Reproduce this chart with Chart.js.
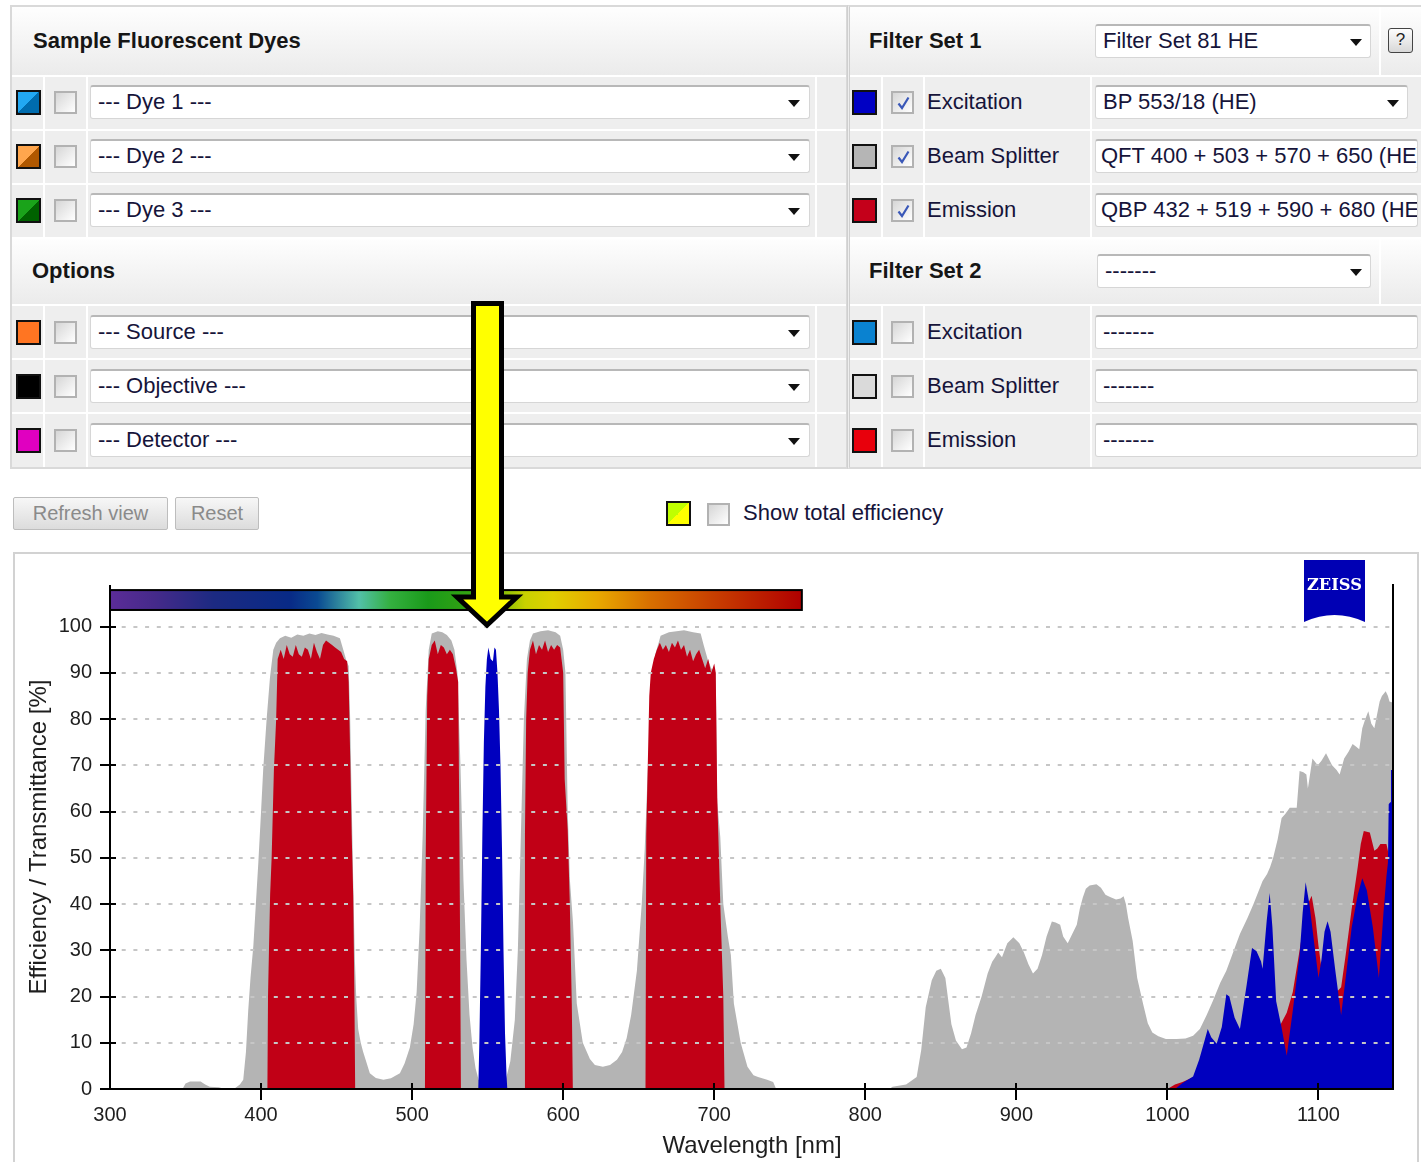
<!DOCTYPE html>
<html>
<head>
<meta charset="utf-8">
<script src="https://cdn.jsdelivr.net/npm/chart.js@4.4.1/dist/chart.umd.min.js"></script>
<style>
body{margin:0;width:1421px;height:1162px;overflow:hidden;background:#fff;font-family:"Liberation Sans",Arial,sans-serif;position:relative}
.a{position:absolute}
.panel{background:#eeeeee;border:2px solid #d9d9d9;box-sizing:border-box}
.hdr{background:linear-gradient(#fefefe,#ebebeb)}
.hl{height:2px;background:#fff}
.vl{width:2px;background:#fff}
.h{font-weight:bold;font-size:22px;color:#161616;line-height:24px;white-space:nowrap}
.sw{width:25px;height:25px;border:2px solid #111;box-sizing:border-box}
.cb{width:23px;height:23px;border:2px solid #b2b2b2;box-sizing:border-box;background:linear-gradient(135deg,#d6d6d6,#ffffff)}
.cb svg{position:absolute;left:1px;top:1px}
.sel{background:#fff;border:1px solid #d6d6d6;border-top:2px solid #b8b8b8;border-radius:3px;box-sizing:border-box;height:34px;font-size:22px;line-height:30px;padding-left:7px;color:#16143a;white-space:nowrap;overflow:hidden}
.arr{width:0;height:0;border-left:6px solid transparent;border-right:6px solid transparent;border-top:7px solid #111}
.lbl{font-size:22px;color:#16143a;line-height:26px;white-space:nowrap}
.btn{height:33px;border:1px solid #bdbdbd;box-sizing:border-box;background:linear-gradient(#f7f7f7,#dcdcdc);color:#8a8a8a;font-size:20px;line-height:31px;text-align:center;border-radius:2px}
</style>
</head>
<body>
<!-- LEFT PANEL -->
<div class="a panel" style="left:10px;top:5px;width:838px;height:464px"></div>
<div class="a hdr" style="left:12px;top:7px;width:834px;height:68px"></div>
<div class="a h" style="left:33px;top:29px">Sample Fluorescent Dyes</div>
<div class="a hl" style="left:12px;top:75px;width:834px"></div>
<div class="a hl" style="left:12px;top:129px;width:834px"></div>
<div class="a hl" style="left:12px;top:183px;width:834px"></div>
<div class="a hl" style="left:12px;top:237px;width:834px"></div>
<div class="a hdr" style="left:12px;top:239px;width:834px;height:65px"></div>
<div class="a h" style="left:32px;top:259px">Options</div>
<div class="a hl" style="left:12px;top:304px;width:834px"></div>
<div class="a hl" style="left:12px;top:358px;width:834px"></div>
<div class="a hl" style="left:12px;top:412px;width:834px"></div>
<div class="a vl" style="left:43px;top:77px;height:160px"></div>
<div class="a vl" style="left:86px;top:77px;height:160px"></div>
<div class="a vl" style="left:815px;top:77px;height:160px"></div>
<div class="a vl" style="left:43px;top:306px;height:161px"></div>
<div class="a vl" style="left:86px;top:306px;height:161px"></div>
<div class="a vl" style="left:815px;top:306px;height:161px"></div>

<div class="a sw" style="left:16px;top:90px;background:linear-gradient(135deg,#22a8f2 50%,#006cae 50%)"></div>
<div class="a sw" style="left:16px;top:144px;background:linear-gradient(135deg,#ffa64d 50%,#b05800 50%)"></div>
<div class="a sw" style="left:16px;top:198px;background:linear-gradient(135deg,#1aa31a 50%,#006200 50%)"></div>
<div class="a sw" style="left:16px;top:320px;background:#ff7522"></div>
<div class="a sw" style="left:16px;top:374px;background:#000"></div>
<div class="a sw" style="left:16px;top:428px;background:#e000c0"></div>

<div class="a cb" style="left:54px;top:91px"></div>
<div class="a cb" style="left:54px;top:145px"></div>
<div class="a cb" style="left:54px;top:199px"></div>
<div class="a cb" style="left:54px;top:321px"></div>
<div class="a cb" style="left:54px;top:375px"></div>
<div class="a cb" style="left:54px;top:429px"></div>

<div class="a sel" style="left:90px;top:85px;width:720px">--- Dye 1 ---</div>
<div class="a sel" style="left:90px;top:139px;width:720px">--- Dye 2 ---</div>
<div class="a sel" style="left:90px;top:193px;width:720px">--- Dye 3 ---</div>
<div class="a sel" style="left:90px;top:315px;width:720px">--- Source ---</div>
<div class="a sel" style="left:90px;top:369px;width:720px">--- Objective ---</div>
<div class="a sel" style="left:90px;top:423px;width:720px">--- Detector ---</div>
<div class="a arr" style="left:788px;top:100px"></div>
<div class="a arr" style="left:788px;top:154px"></div>
<div class="a arr" style="left:788px;top:208px"></div>
<div class="a arr" style="left:788px;top:330px"></div>
<div class="a arr" style="left:788px;top:384px"></div>
<div class="a arr" style="left:788px;top:438px"></div>

<!-- RIGHT PANEL -->
<div class="a panel" style="left:847px;top:5px;width:580px;height:464px;border-left:3px double #cfcfcf"></div>
<div class="a hdr" style="left:850px;top:7px;width:573px;height:68px"></div>
<div class="a h" style="left:869px;top:29px">Filter Set 1</div>
<div class="a hl" style="left:850px;top:75px;width:573px"></div>
<div class="a hl" style="left:850px;top:129px;width:573px"></div>
<div class="a hl" style="left:850px;top:183px;width:573px"></div>
<div class="a hl" style="left:850px;top:237px;width:573px"></div>
<div class="a hdr" style="left:850px;top:239px;width:573px;height:65px"></div>
<div class="a h" style="left:869px;top:259px">Filter Set 2</div>
<div class="a hl" style="left:850px;top:304px;width:573px"></div>
<div class="a hl" style="left:850px;top:358px;width:573px"></div>
<div class="a hl" style="left:850px;top:412px;width:573px"></div>
<div class="a vl" style="left:1379px;top:7px;height:68px"></div>
<div class="a vl" style="left:1379px;top:239px;height:65px"></div>
<div class="a vl" style="left:881px;top:77px;height:160px"></div>
<div class="a vl" style="left:923px;top:77px;height:160px"></div>
<div class="a vl" style="left:1090px;top:77px;height:160px"></div>
<div class="a vl" style="left:881px;top:306px;height:161px"></div>
<div class="a vl" style="left:923px;top:306px;height:161px"></div>
<div class="a vl" style="left:1090px;top:306px;height:161px"></div>

<div class="a sel" style="left:1095px;top:24px;width:276px">Filter Set 81 HE</div>
<div class="a arr" style="left:1350px;top:39px"></div>
<div class="a" style="left:1388px;top:28px;width:25px;height:25px;border:1px solid #444;border-radius:3px;box-sizing:border-box;background:linear-gradient(#fdfdfd,#d8d8d8);font-size:17px;line-height:22px;text-align:center;color:#222">?</div>
<div class="a sel" style="left:1097px;top:254px;width:274px">-------</div>
<div class="a arr" style="left:1350px;top:269px"></div>

<div class="a sw" style="left:852px;top:90px;background:#0000c4"></div>
<div class="a sw" style="left:852px;top:144px;background:#b5b5b5"></div>
<div class="a sw" style="left:852px;top:198px;background:#c4001a"></div>
<div class="a sw" style="left:852px;top:320px;background:#0a82d0"></div>
<div class="a sw" style="left:852px;top:374px;background:#dadada"></div>
<div class="a sw" style="left:852px;top:428px;background:#e8000c"></div>

<div class="a cb" style="left:891px;top:91px"><svg width="19" height="19"><path d="M4.5 9.5 L8 14 L14.5 3.5" stroke="#3a58b8" stroke-width="2.2" fill="none"/></svg></div>
<div class="a cb" style="left:891px;top:145px"><svg width="19" height="19"><path d="M4.5 9.5 L8 14 L14.5 3.5" stroke="#3a58b8" stroke-width="2.2" fill="none"/></svg></div>
<div class="a cb" style="left:891px;top:199px"><svg width="19" height="19"><path d="M4.5 9.5 L8 14 L14.5 3.5" stroke="#3a58b8" stroke-width="2.2" fill="none"/></svg></div>
<div class="a cb" style="left:891px;top:321px"></div>
<div class="a cb" style="left:891px;top:375px"></div>
<div class="a cb" style="left:891px;top:429px"></div>

<div class="a lbl" style="left:927px;top:89px">Excitation</div>
<div class="a lbl" style="left:927px;top:143px">Beam Splitter</div>
<div class="a lbl" style="left:927px;top:197px">Emission</div>
<div class="a lbl" style="left:927px;top:319px">Excitation</div>
<div class="a lbl" style="left:927px;top:373px">Beam Splitter</div>
<div class="a lbl" style="left:927px;top:427px">Emission</div>

<div class="a sel" style="left:1095px;top:85px;width:313px">BP 553/18 (HE)</div>
<div class="a arr" style="left:1387px;top:100px"></div>
<div class="a sel" style="left:1095px;top:139px;width:323px;padding-left:5px">QFT 400 + 503 + 570 + 650 (HE)</div>
<div class="a sel" style="left:1095px;top:193px;width:323px;padding-left:5px">QBP 432 + 519 + 590 + 680 (HE)</div>
<div class="a sel" style="left:1095px;top:315px;width:323px">-------</div>
<div class="a sel" style="left:1095px;top:369px;width:323px">-------</div>
<div class="a sel" style="left:1095px;top:423px;width:323px">-------</div>

<!-- BUTTON ROW -->
<div class="a btn" style="left:13px;top:497px;width:155px">Refresh view</div>
<div class="a btn" style="left:175px;top:497px;width:84px">Reset</div>
<div class="a sw" style="left:666px;top:501px;background:linear-gradient(135deg,#c0ff00 50%,#ffff00 50%)"></div>
<div class="a cb" style="left:707px;top:503px"></div>
<div class="a lbl" style="left:743px;top:500px">Show total efficiency</div>

<!-- CHART -->
<div class="a" style="left:13px;top:552px;width:1406px;height:640px;border:2px solid #d2d2d2;box-sizing:border-box"></div>
<div class="a" style="left:15px;top:555px;width:1406px;height:607px"><canvas id="c"></canvas></div>

<svg class="a" style="left:1304px;top:560px" width="62" height="63">
  <path d="M0 0 H61 V62 Q30.5 48 0 62 Z" fill="#0000b4"/>
  <text x="30.5" y="30" fill="#fff" font-family="DejaVu Serif,Liberation Serif,serif" font-weight="bold" font-size="17" text-anchor="middle" textLength="55" lengthAdjust="spacingAndGlyphs">ZEISS</text>
</svg>

<svg class="a" style="left:0;top:0;pointer-events:none" width="1421" height="1162">
  <polygon points="473.5,303.5 501.5,303.5 501.5,597 517,597 487,625 457,597 473.5,597" fill="#ffff00" stroke="#000" stroke-width="5" stroke-linejoin="miter"/>
</svg>

<script>
// ---- DATA (wavelength nm, transmittance %) ----
const beamSplitter = [[300,0],[348,0],[350,1.2],[353,1.6],[360,1.6],[363,1],[366,0.5],[372,0.4],[376,0],[382,0],[384,0.5],[386,1],[388.2,2],[390,8],[391.5,17],[393,24],[394.9,31],[397.1,43],[398.2,49],[400,60],[401.4,69],[403.7,80],[405.9,89],[408.1,95],[410,96.5],[412.5,97.5],[416,98],[420,97.6],[424,98.3],[428,98],[432,98.5],[436,98.2],[440,98.6],[444,98.3],[448,98],[452.2,97.5],[454,95.5],[456.6,92.5],[458,91.5],[459,80],[460,62],[461,45],[462.1,28],[463,20],[464.3,13],[466,10],[467.6,8],[470,5.5],[472,3.4],[476,2.4],[481,2],[486,2.3],[491.9,3.4],[495,5.5],[498.5,9],[501,14],[503,21],[505,35],[507,55],[509,82],[511,95],[513,98.5],[517,99],[520,98.8],[523,98.2],[526,97],[528,95],[530,90],[532,70],[534,45],[536,28],[538,16],[540,9],[542,4.5],[544,2],[547,1],[552,0.6],[558,0.8],[562,2],[565,6],[568,15],[570,30],[572,55],[574,80],[576,93],[578,97],[580,98.5],[585,99],[590,99.2],[595,98.8],[598,98],[600,95],[601.5,90],[603,60],[604.5,45],[606.5,36],[609,18.5],[613,10],[617.7,6.5],[621,5.2],[626.3,4.8],[631,5.2],[635.6,6.3],[639,8],[642,11],[645,16],[648.8,25.6],[652,40],[654,52],[656,69],[659,84.5],[661,94],[664.5,98],[670,98.8],[675,99],[680,99.2],[686,98.8],[691,98.5],[693,96],[695.6,93],[698,91],[701,90],[702,62],[704,54.5],[706,40],[709,33],[711,29],[713,18.5],[717.5,10],[722,4.8],[726,3],[729,2.6],[735,2],[739,1.5],[741,0],[816,0],[818,0.5],[827,1],[834,2.6],[837,8.4],[840,17.7],[844,23.5],[847,25.6],[850,26],[853,24],[855,19],[857,14],[860,10.5],[864,8.6],[867,9],[870,12],[873,16],[877,20],[881,25],[884,27.5],[886,28.5],[888,29.5],[890.5,28.5],[894,31.5],[898,32.8],[902,31.5],[905,29.5],[908,27],[911,25],[914,26],[917,29],[920,33],[923.5,36.2],[926,36],[929,35.5],[931,33],[934,31.5],[937,33.5],[940,35.5],[942,39],[944,41.4],[946,43.3],[948.5,44],[953,44.3],[956,43.5],[959,42],[962,41.5],[966,41],[969,41.2],[971,41.7],[972.5,40],[974,37],[977,32],[980,24],[984,18.3],[987,14.2],[990,12.2],[994,11.4],[999,10.8],[1006,10.8],[1012,10.9],[1017,11.5],[1021.5,13],[1026,16],[1030,19],[1035,23],[1039,25.6],[1044,30],[1048,33.5],[1053,37],[1057,40],[1060,42.5],[1063,45],[1066,46.5],[1068,48],[1070,50],[1073,54],[1075.6,58.6],[1078,59.5],[1081,60.8],[1085.6,60.8],[1087.5,68.8],[1090,68.5],[1092,68],[1093,65],[1096,71.5],[1099.5,70],[1102,71],[1105,72.6],[1109,70],[1112,69],[1114,68],[1117,71.5],[1120,73],[1122.6,74.6],[1125,74],[1127,73.5],[1129,78],[1131,80],[1133,81.7],[1135,79],[1137,78],[1140.5,83.8],[1142,85],[1144.5,86],[1146,85],[1147,83.8],[1150,83.5]];

const emission = [[300,0],[404.2,0],[404.6,20],[406,42],[407,50],[408.5,69],[410,80],[411,93],[413,95],[415,93],[417,96],[419,94],[421,93.5],[423,96],[425,94],[427,93.5],[429,95.5],[431,95],[433,93],[435,96.5],[437,94.5],[439,93],[441,96],[443,97],[445,96.5],[447,96],[449,95.5],[451,95],[453,94.5],[455,93],[457,92.5],[458,88],[459,72],[460,55],[461,42],[461.8,20],[462.3,0],[508.5,0],[509,50],[510,85],[511,93],[513,96],[515,97],[517,94],[519,96],[521,95.5],[523,94],[525,95],[527,94],[529,91],[530.5,88],[531.2,60],[531.8,30],[532.3,0],[574.3,0],[574.7,55],[575.5,80],[576.5,90],[578,95],[580,97],[582,94],[584,96],[586,95],[588,97],[590,94.5],[592,96],[594,95],[596,96],[598,95.5],[600,90],[601,67],[603,56],[604.4,40],[605.7,18.5],[606.4,0],[654.5,0],[655,55],[656,70],[657,85],[658,90],[660,93],[662,95],[664,96.5],[666,95],[668,96],[670,94.5],[672,96.5],[674,95.5],[676,97],[678,95],[680,96],[682,93.5],[684,95],[686,92.5],[688,94],[690,95],[692,93],[694,91],[696,93],[698,90],[700,92],[701,90],[702,63],[704,40],[706,20],[706.8,0],[1000,0],[1005,1],[1010,1.5],[1020,3],[1030,5],[1040,7],[1050,8],[1060,9],[1068,10],[1072,11.5],[1075,14],[1079,16.5],[1083,21],[1087,29],[1090,35],[1093,40],[1095.5,41.8],[1098,37],[1100,31],[1102,26],[1105,22],[1109,20],[1112,21],[1115,22],[1118,29],[1122,39],[1126,48],[1128,53],[1130,55.8],[1134,55.5],[1137,51.5],[1139,52],[1141,53],[1145,53],[1147,50],[1150,46]];

const excitation = [[300,0],[543.8,0],[544.5,10],[545.5,30],[546.5,55],[547.5,75],[548.5,87],[549.5,93],[550.5,95.5],[552,93],[553.5,92.5],[554.5,95.5],[555.5,95],[556.5,90],[557.5,82],[558.5,70],[559.5,52],[560.5,30],[561.5,12],[562.5,3],[563,0],[1005,0],[1010,1.3],[1017,2.7],[1021,6.3],[1024.7,10.6],[1026.7,13],[1029,11.2],[1032.6,9.8],[1036,13.4],[1039,20.5],[1041,20],[1044.5,15.4],[1048,13],[1052.5,22.6],[1056,30.5],[1059,29.8],[1062,27.6],[1063,26],[1065.7,36.3],[1067.7,42.4],[1069.5,35],[1072,19],[1075.5,13.4],[1079,7.2],[1083,17],[1087.5,29],[1089.5,38],[1091.5,44.7],[1094,40],[1097,32],[1100,24],[1102,28],[1104,34],[1106,36.3],[1108,34],[1111,26],[1113,21],[1115,16],[1118,24],[1122,35],[1126,42],[1129,45.6],[1132,43],[1136,35],[1140,24],[1143,38],[1145,46],[1146,49],[1146.5,61.6],[1147.5,62],[1148,69],[1150,69]];

const xTicks = [300,400,500,600,700,800,900,1000,1100];
const yTicks = [0,10,20,30,40,50,60,70,80,90,100];
const spectrumBand = [300, 758]; // wavelength range of the colour bar

const pts = arr => arr.map(p => ({x: p[0], y: p[1]}));

const deco = {
  id: 'deco',
  afterDraw(chart) {
    const {ctx, chartArea: a, scales: {x, y}} = chart;
    ctx.save();
    const x0 = x.getPixelForValue(spectrumBand[0]), x1 = x.getPixelForValue(spectrumBand[1]);
    const yt = y.getPixelForValue(107.9), yb = y.getPixelForValue(103.6);
    const g = ctx.createLinearGradient(x0, 0, x1, 0);
    [[0,'#5b2c98'],[0.065,'#452a8a'],[0.15,'#1c2a82'],[0.26,'#082a86'],[0.3,'#0a4a92'],[0.36,'#52c0a8'],[0.405,'#34b040'],[0.46,'#1a9a1a'],[0.53,'#38a410'],[0.6,'#c8d200'],[0.64,'#e0d000'],[0.705,'#e8a800'],[0.78,'#d87000'],[0.87,'#c84000'],[1,'#b00000']].forEach(s => g.addColorStop(s[0], s[1]));
    ctx.fillStyle = g;
    ctx.fillRect(x0, yt, x1 - x0, yb - yt);
    ctx.strokeStyle = '#000'; ctx.lineWidth = 2;
    ctx.strokeRect(x0, yt, x1 - x0, yb - yt);
    ctx.beginPath();
    ctx.moveTo(a.left, a.top); ctx.lineTo(a.left, a.bottom); ctx.lineTo(a.right, a.bottom);
    ctx.moveTo(a.right - 1, a.top - 1); ctx.lineTo(a.right - 1, a.bottom);
    ctx.stroke();
    ctx.lineWidth = 2;
    ctx.beginPath();
    y.ticks.forEach(t => { const py = Math.round(y.getPixelForValue(t.value)); ctx.moveTo(a.left - 10, py); ctx.lineTo(a.left + 6, py); });
    x.ticks.forEach(t => { if (t.value === 300) return; const px = Math.round(x.getPixelForValue(t.value)); ctx.moveTo(px, a.bottom - 6); ctx.lineTo(px, a.bottom + 11); });
    ctx.stroke();
    ctx.restore();
  }
};

new Chart(document.getElementById('c'), {
  type: 'line',
  data: {
    datasets: [
      {label: 'Excitation', data: pts(excitation), backgroundColor: '#0000bf', fill: 'origin'},
      {label: 'Emission', data: pts(emission), backgroundColor: '#c10016', fill: 'origin'},
      {label: 'Beam Splitter', data: pts(beamSplitter), backgroundColor: '#b4b4b4', fill: 'origin'}
    ]
  },
  options: {
    responsive: true,
    maintainAspectRatio: false,
    animation: false,
    layout: {padding: {left: 0, right: 27, top: 28, bottom: 0}},
    elements: {point: {radius: 0}, line: {borderWidth: 0, borderColor: 'rgba(0,0,0,0)', tension: 0}},
    plugins: {legend: {display: false}, tooltip: {enabled: false}},
    scales: {
      x: {
        type: 'linear', min: 300, max: 1150,
        afterFit(s) { s.height = 73; },
        afterBuildTicks(s) { s.ticks = xTicks.map(v => ({value: v})); },
        grid: {display: false, drawTicks: false},
        border: {display: false},
        ticks: {padding: 14, color: '#1e1e1e', font: {family: 'Liberation Sans, Arial, sans-serif', size: 20}, callback: v => String(v)},
        title: {display: true, text: 'Wavelength [nm]', color: '#1e1e1e', font: {family: 'Liberation Sans, Arial, sans-serif', size: 24}, padding: {top: 0, bottom: 1}}
      },
      y: {
        type: 'linear', min: 0, max: 109,
        afterFit(s) { s.width = 95; },
        afterBuildTicks(s) { s.ticks = yTicks.map(v => ({value: v})); },
        grid: {color: '#c6c6c6', lineWidth: 2, drawTicks: false, z: 1},
        border: {display: false, dash: [4, 7.7]},
        ticks: {padding: 18, color: '#1e1e1e', font: {family: 'Liberation Sans, Arial, sans-serif', size: 20}, callback: v => String(v)},
        title: {display: true, text: 'Efficiency / Transmittance [%]', color: '#1e1e1e', font: {family: 'Liberation Sans, Arial, sans-serif', size: 24}, padding: {top: 10, bottom: 0}}
      }
    }
  },
  plugins: [deco]
});
</script>
</body>
</html>
